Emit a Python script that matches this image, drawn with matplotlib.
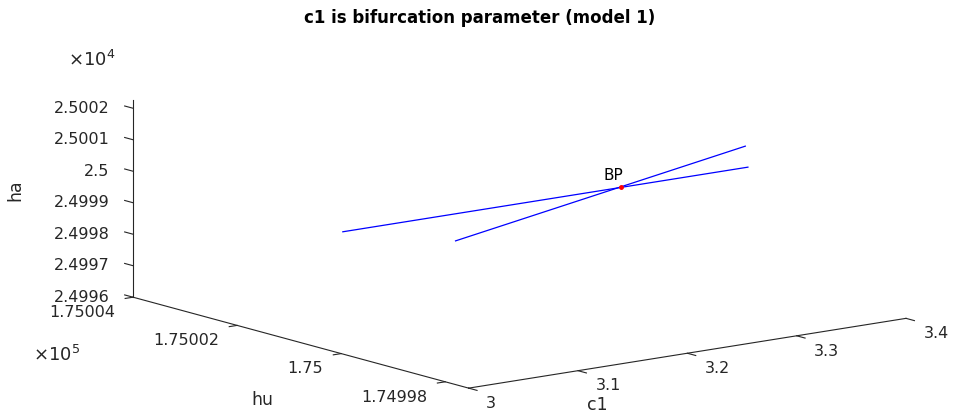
import numpy as np
import matplotlib
matplotlib.use('Agg')
import matplotlib.pyplot as plt
from mpl_toolkits.mplot3d import proj3d

plt.rcParams['font.family'] = ['DejaVu Sans']

title = 'c1 is bifurcation parameter (model 1)'

# branch 1 (trivial branch)
c1_b1 = [3.0015, 3.372]
hu_b1 = [175000.0, 175000.0]
ha_b1 = [24999.86, 24999.86]
# branch 2
c1_b2 = [3.1046, 3.3696]
hu_b2 = [175000.0, 175000.0]
ha_b2 = [24999.00, 25000.54]
# branch point
bp_c1 = [3.2556]
bp_hu = [175000.0]
bp_ha = [24999.87]
bp_label = 'BP'

c1_ticks = [3.0, 3.1, 3.2, 3.3, 3.4]
hu_ticks = [1.74998, 1.75, 1.75002, 1.75004]        # x 1e5
ha_ticks = [2.4996, 2.4997, 2.4998, 2.4999, 2.5, 2.5001, 2.5002]  # x 1e4
c1_lim = (3.0, 3.4)
hu_lim = (1.7499755, 1.75004)
ha_lim = (2.4996, 2.500225)
hu_scale = 1e5
ha_scale = 1e4

fig = plt.figure(figsize=(9.6, 4.18), dpi=100)
ax = fig.add_axes([0.0353, -0.0144, 1.0, 1.0], projection='3d')
ax.set_proj_type('ortho')
ax.view_init(elev=12, azim=-127.5)
ax.set_box_aspect((2.74, 2.74, 1.0), zoom=1.87)

blue = '#0000ff'
l1, = ax.plot(c1_b1, np.array(hu_b1) / hu_scale, np.array(ha_b1) / ha_scale, color=blue, lw=0.9)
l2, = ax.plot(c1_b2, np.array(hu_b2) / hu_scale, np.array(ha_b2) / ha_scale, color=blue, lw=0.9)
bp, = ax.plot(bp_c1, np.array(bp_hu) / hu_scale, np.array(bp_ha) / ha_scale, 'o', color='red', ms=2.5)
for ln in (l1, l2, bp):
    ln.set_clip_on(False)

ax.set_xlim(*c1_lim)
ax.set_ylim(*hu_lim)
ax.set_zlim(*ha_lim)
ax.set_xticks([])
ax.set_yticks([])
ax.set_zticks([])

ax.grid(False)
for axis in (ax.xaxis, ax.yaxis, ax.zaxis):
    axis.set_pane_color((1, 1, 1, 0))
    axis.line.set_color('#262626')
    axis.line.set_linewidth(0.8)
    axis.label.set_visible(False)
    axis.offsetText.set_visible(False)

tick_color = '#262626'
tfs = 11.5
fmt = lambda v: '%g' % round(v, 6)
c1_span = c1_lim[1] - c1_lim[0]
hu_span = hu_lim[1] - hu_lim[0]
tick_kw = dict(color=tick_color, lw=0.8, clip_on=False)

# tick marks
for v in ha_ticks:   # ha axis: vertical edge at (c1 min, hu max); ticks along +hu
    ax.plot([c1_lim[0], c1_lim[0]], [hu_lim[1], hu_lim[1] + 0.025 * hu_span], [v, v], **tick_kw)
for v in hu_ticks:   # hu axis: edge at (c1 min, ha min); ticks along -c1
    ax.plot([c1_lim[0], c1_lim[0] - 0.018 * c1_span], [v, v], [ha_lim[0], ha_lim[0]], **tick_kw)
for v in c1_ticks:   # c1 axis: edge at (hu min, ha min); ticks along -hu
    ax.plot([v, v], [hu_lim[0], hu_lim[0] - 0.025 * hu_span], [ha_lim[0], ha_lim[0]], **tick_kw)

# fix the projection, then place labels at projected positions
fig.canvas.draw()
M = ax.get_proj()


def label3d(x, y, z, s, dx, dy, **kw):
    px, py, _ = proj3d.proj_transform(x, y, z, M)
    ax.annotate(s, xy=(px, py), xycoords='data', xytext=(dx, dy), textcoords='offset points',
                annotation_clip=False, **kw)


for v in ha_ticks:
    label3d(c1_lim[0], hu_lim[1], v, fmt(v), -17, 0, color=tick_color, fontsize=tfs,
            ha='right', va='center')
for v in hu_ticks:
    label3d(c1_lim[0], v, ha_lim[0], fmt(v), -13, -11, color=tick_color, fontsize=tfs,
            ha='right', va='center')
for v in c1_ticks:
    label3d(v, hu_lim[0], ha_lim[0], fmt(v), 12.5, -11, color=tick_color, fontsize=tfs,
            ha='left', va='center')
label3d(bp_c1[0], bp_hu[0] / hu_scale, bp_ha[0] / ha_scale, bp_label, -5, 3,
        fontsize=11, ha='center', va='bottom')

fig.text(15 / 960, 1 - 190 / 418, 'ha', rotation=90, ha='center', va='center', fontsize=12.5, color=tick_color)
fig.text(262 / 960, 1 - 400 / 418, 'hu', ha='center', va='center', fontsize=12.5, color=tick_color)
fig.text(597 / 960, 1 - 405 / 418, 'c1', ha='center', va='center', fontsize=12.5, color=tick_color)

fig.text(0.5, 1 - 18 / 418, title, ha='center', va='center', fontsize=12, fontweight='bold')
fig.text(68 / 960, 1 - 60 / 418, r'$\times10^{4}$', ha='left', va='center', fontsize=13, color=tick_color)
fig.text(33 / 960, 1 - 355 / 418, r'$\times10^{5}$', ha='left', va='center', fontsize=13, color=tick_color)

fig.savefig('out.png', dpi=100)
